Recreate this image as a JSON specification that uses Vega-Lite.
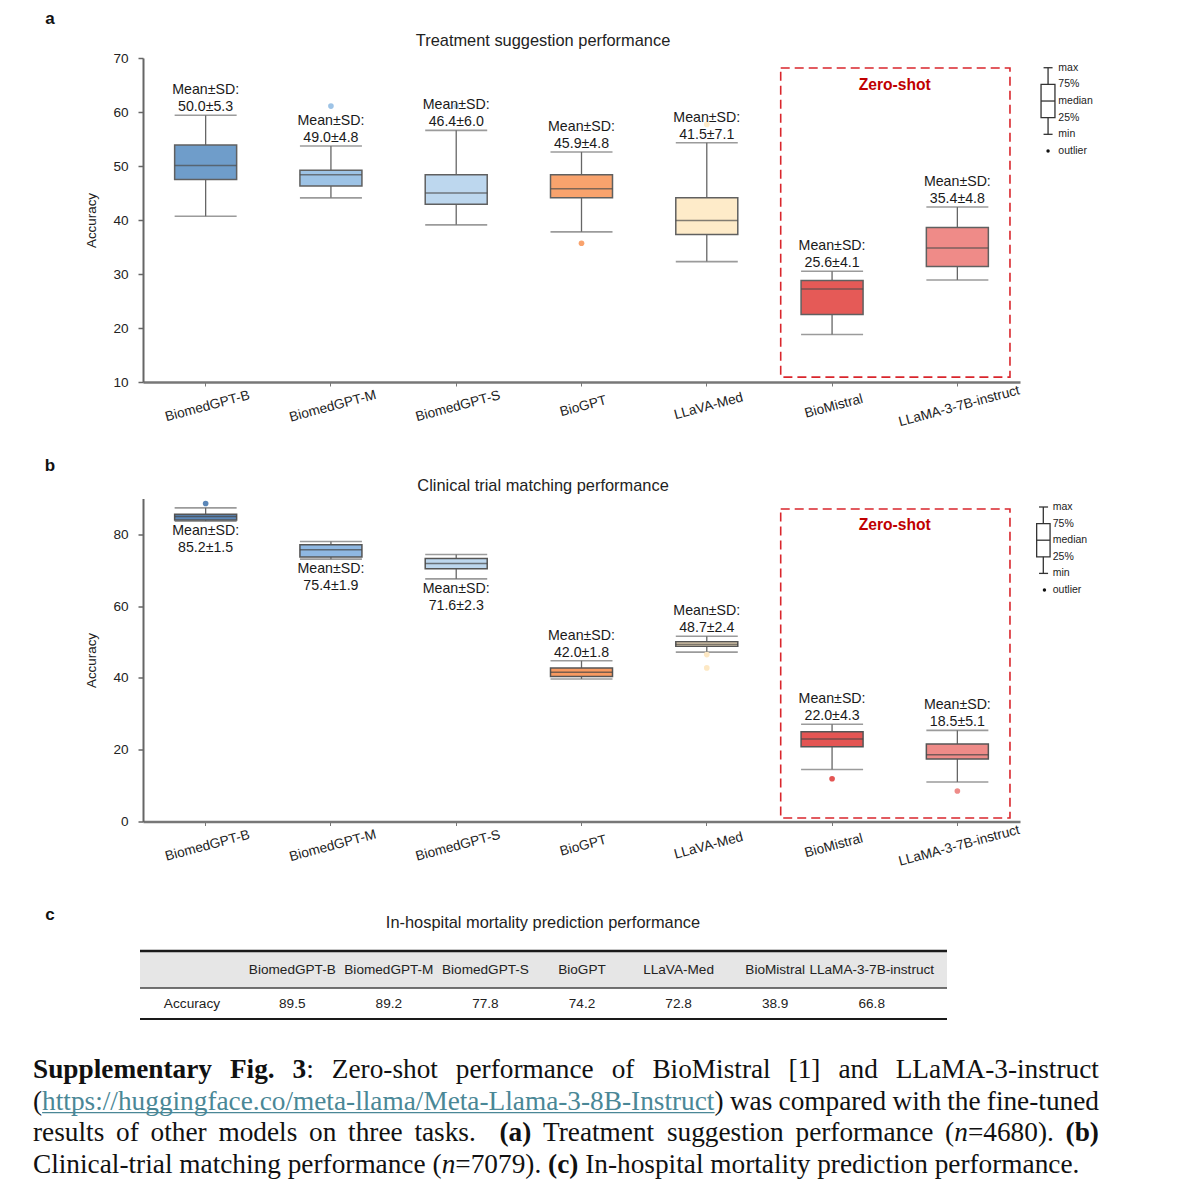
{
  "$schema": "https://vega.github.io/schema/vega-lite/v6.json",
  "background": "white",
  "padding": {"left": 33, "top": 10, "right": 0, "bottom": 0},
  "bounds": "flush",
  "center": true,
  "spacing": 116.5,
  "resolve": {"scale": {"color": "independent"}},
  "config": {
    "view": {"stroke": null},
    "text": {"font": "Liberation Sans"},
    "axis": {"grid": false, "labelFont": "Liberation Sans", "titleFont": "Liberation Sans", "labelColor": "#222", "titleColor": "#222"}
  },
  "datasets": {
    "boxes": [
      {"task": "treatment", "model": "BiomedGPT-B", "min": 40.7, "q1": 47.5, "median": 50.1, "q3": 53.9, "max": 59.4, "mean": 50.0, "sd": 5.3},
      {"task": "treatment", "model": "BiomedGPT-M", "min": 44.1, "q1": 46.3, "median": 48.4, "q3": 49.2, "max": 53.7, "mean": 49.0, "sd": 4.8},
      {"task": "treatment", "model": "BiomedGPT-S", "min": 39.1, "q1": 42.9, "median": 45.0, "q3": 48.4, "max": 56.6, "mean": 46.4, "sd": 6.0},
      {"task": "treatment", "model": "BioGPT", "min": 37.8, "q1": 44.1, "median": 45.8, "q3": 48.4, "max": 52.6, "mean": 45.9, "sd": 4.8},
      {"task": "treatment", "model": "LLaVA-Med", "min": 32.3, "q1": 37.3, "median": 39.9, "q3": 44.1, "max": 54.3, "mean": 41.5, "sd": 7.1},
      {"task": "treatment", "model": "BioMistral", "min": 18.8, "q1": 22.5, "median": 27.2, "q3": 28.8, "max": 30.5, "mean": 25.6, "sd": 4.1},
      {"task": "treatment", "model": "LLaMA-3-7B-instruct", "min": 28.9, "q1": 31.4, "median": 34.8, "q3": 38.6, "max": 42.4, "mean": 35.4, "sd": 4.8},
      {"task": "clinical", "model": "BiomedGPT-B", "min": 83.7, "q1": 84.0, "median": 85.0, "q3": 85.6, "max": 87.4, "mean": 85.2, "sd": 1.5},
      {"task": "clinical", "model": "BiomedGPT-M", "min": 73.1, "q1": 73.7, "median": 75.7, "q3": 77.1, "max": 78.0, "mean": 75.4, "sd": 1.9},
      {"task": "clinical", "model": "BiomedGPT-S", "min": 67.6, "q1": 70.4, "median": 71.9, "q3": 73.3, "max": 74.4, "mean": 71.6, "sd": 2.3},
      {"task": "clinical", "model": "BioGPT", "min": 39.7, "q1": 40.4, "median": 41.6, "q3": 42.8, "max": 44.8, "mean": 42.0, "sd": 1.8},
      {"task": "clinical", "model": "LLaVA-Med", "min": 47.2, "q1": 48.8, "median": 49.4, "q3": 50.1, "max": 51.6, "mean": 48.7, "sd": 2.4},
      {"task": "clinical", "model": "BioMistral", "min": 14.5, "q1": 20.8, "median": 23.0, "q3": 25.0, "max": 27.1, "mean": 22.0, "sd": 4.3},
      {"task": "clinical", "model": "LLaMA-3-7B-instruct", "min": 11.0, "q1": 17.4, "median": 18.6, "q3": 21.6, "max": 25.4, "mean": 18.5, "sd": 5.1}
    ],
    "outliers": [
      {"task": "treatment", "model": "BiomedGPT-M", "value": 61.1},
      {"task": "treatment", "model": "BiomedGPT-S", "value": 61.1},
      {"task": "treatment", "model": "BioGPT", "value": 35.7},
      {"task": "treatment", "model": "LLaVA-Med", "value": 57.7},
      {"task": "clinical", "model": "BiomedGPT-B", "value": 88.6},
      {"task": "clinical", "model": "LLaVA-Med", "value": 46.5},
      {"task": "clinical", "model": "LLaVA-Med", "value": 42.8},
      {"task": "clinical", "model": "BioMistral", "value": 11.9},
      {"task": "clinical", "model": "LLaMA-3-7B-instruct", "value": 8.5}
    ],
    "legendglyph": [{"min": 0, "q1": 1, "median": 2, "q3": 3, "max": 4, "outlier": -1}],
    "legendlabels": [
      {"item": "max", "v": 4}, {"item": "75%", "v": 3}, {"item": "median", "v": 2},
      {"item": "25%", "v": 1}, {"item": "min", "v": 0}, {"item": "outlier", "v": -1}
    ],
    "table": [
      {"model": "BiomedGPT-B", "accuracy": 89.5},
      {"model": "BiomedGPT-M", "accuracy": 89.2},
      {"model": "BiomedGPT-S", "accuracy": 77.8},
      {"model": "BioGPT", "accuracy": 74.2},
      {"model": "LLaVA-Med", "accuracy": 72.8},
      {"model": "BioMistral", "accuracy": 38.9},
      {"model": "LLaMA-3-7B-instruct", "accuracy": 66.8}
    ],
    "caption": [
      {"line": 1, "x": 0, "text": "Supplementary", "style": "bold"},
      {"line": 1, "x": 196.9, "text": "Fig.", "style": "bold"},
      {"line": 1, "x": 259.6, "text": "3", "style": "bold"},
      {"line": 1, "x": 273.3, "text": ":", "style": "plain"},
      {"line": 1, "x": 298.8, "text": "Zero-shot", "style": "plain"},
      {"line": 1, "x": 422.8, "text": "performance", "style": "plain"},
      {"line": 1, "x": 578.7, "text": "of", "style": "plain"},
      {"line": 1, "x": 619.4, "text": "BioMistral", "style": "plain"},
      {"line": 1, "x": 755.6, "text": "[1]", "style": "plain"},
      {"line": 1, "x": 805.4, "text": "and", "style": "plain"},
      {"line": 1, "x": 862.7, "text": "LLaMA-3-instruct", "style": "plain"},
      {"line": 2, "x": 0, "text": "(", "style": "plain"},
      {"line": 2, "x": 9.1, "x_end": 681.6, "text": "https://huggingface.co/meta-llama/Meta-Llama-3-8B-Instruct", "style": "link"},
      {"line": 2, "x": 681.6, "text": ")", "style": "plain"},
      {"line": 2, "x": 696.9, "text": "was", "style": "plain"},
      {"line": 2, "x": 745.6, "text": "compared", "style": "plain"},
      {"line": 2, "x": 859.5, "text": "with", "style": "plain"},
      {"line": 2, "x": 914.2, "text": "the", "style": "plain"},
      {"line": 2, "x": 953.8, "text": "fine-tuned", "style": "plain"},
      {"line": 3, "x": 0, "text": "results", "style": "plain"},
      {"line": 3, "x": 83.0, "text": "of", "style": "plain"},
      {"line": 3, "x": 117.5, "text": "other", "style": "plain"},
      {"line": 3, "x": 185.4, "text": "models", "style": "plain"},
      {"line": 3, "x": 276.0, "text": "on", "style": "plain"},
      {"line": 3, "x": 315.1, "text": "three", "style": "plain"},
      {"line": 3, "x": 381.4, "text": "tasks.", "style": "plain"},
      {"line": 3, "x": 466.4, "text": "(a)", "style": "bold"},
      {"line": 3, "x": 510.0, "text": "Treatment", "style": "plain"},
      {"line": 3, "x": 633.9, "text": "suggestion", "style": "plain"},
      {"line": 3, "x": 762.5, "text": "performance", "style": "plain"},
      {"line": 3, "x": 912.1, "text": "(", "style": "plain"},
      {"line": 3, "x": 921.2, "text": "n", "style": "italic"},
      {"line": 3, "x": 934.9, "text": "=4680).", "style": "plain"},
      {"line": 3, "x": 1032.6, "text": "(b)", "style": "bold"},
      {"line": 4, "x": 0, "text": "Clinical-trial matching performance (", "style": "plain"},
      {"line": 4, "x": 408.7, "text": "n", "style": "italic"},
      {"line": 4, "x": 422.3, "text": "=7079).", "style": "plain"},
      {"line": 4, "x": 515.1, "text": "(c)", "style": "bold"},
      {"line": 4, "x": 552.2, "text": "In-hospital mortality prediction performance.", "style": "plain"}
    ]
  },
  "vconcat": [
    {
      "width": 877,
      "height": 324,
      "resolve": {"scale": {"x": "independent", "y": "independent"}},
      "layer": [
        {
          "data": {"name": "boxes"},
          "transform": [
            {"filter": "datum.task === 'treatment'"},
            {"calculate": "'Mean±SD:\\n' + format(datum.mean, '.1f') + '±' + format(datum.sd, '.1f')", "as": "label"}
          ],
          "encoding": {
            "x": {
              "field": "model", "type": "nominal", "title": null,
              "scale": {"domain": ["BiomedGPT-B", "BiomedGPT-M", "BiomedGPT-S", "BioGPT", "LLaVA-Med", "BioMistral", "LLaMA-3-7B-instruct"], "paddingInner": 0, "paddingOuter": 0},
              "axis": {"labelAngle": -15, "labelAlign": "center", "labelBaseline": "top", "labelPadding": 13, "tickSize": 4, "tickColor": "#777", "domainColor": "#777", "domainWidth": 2.5, "labelFontSize": 13.6, "labelOverlap": false}
            }
          },
          "layer": [
            {
              "mark": {"type": "rule", "color": "#666", "strokeWidth": 1.3},
              "encoding": {
                "y": {"field": "min", "type": "quantitative", "title": "Accuracy",
                  "scale": {"domain": [10, 70], "nice": false, "zero": false},
                  "axis": {"values": [10, 20, 30, 40, 50, 60, 70], "tickSize": 5, "labelPadding": 10, "domainColor": "#666", "domainWidth": 2, "tickColor": "#666", "tickWidth": 1.5, "labelFontSize": 13.6, "titleFontSize": 13.4, "titleFontWeight": "normal", "titlePadding": 14}},
                "y2": {"field": "max"}
              }
            },
            {"mark": {"type": "tick", "color": "#707070", "size": 62, "thickness": 1.6}, "encoding": {"y": {"field": "min", "type": "quantitative"}}},
            {"mark": {"type": "tick", "color": "#707070", "size": 62, "thickness": 1.6}, "encoding": {"y": {"field": "max", "type": "quantitative"}}},
            {
              "mark": {"type": "bar", "size": 62, "stroke": "#606060", "strokeWidth": 1.5},
              "encoding": {
                "y": {"field": "q1", "type": "quantitative"}, "y2": {"field": "q3"},
                "color": {"field": "model", "type": "nominal", "legend": null,
                  "scale": {"domain": ["BiomedGPT-B", "BiomedGPT-M", "BiomedGPT-S", "BioGPT", "LLaVA-Med", "BioMistral", "LLaMA-3-7B-instruct"], "range": ["#6f9dca", "#9dc3e6", "#bdd7ee", "#f9a36d", "#feebc9", "#e55a57", "#ef8b88"]}}
              }
            },
            {"mark": {"type": "tick", "color": "#4d4d4d", "size": 62, "thickness": 1.5}, "encoding": {"y": {"field": "median", "type": "quantitative"}}},
            {
              "data": {"name": "outliers"},
              "transform": [{"filter": "datum.task === 'treatment'"}],
              "mark": {"type": "point", "filled": true, "size": 32, "opacity": 1},
              "encoding": {"y": {"field": "value", "type": "quantitative"}, "color": {"field": "model", "type": "nominal", "legend": null}}
            },
            {
              "mark": {"type": "text", "fontSize": 14.2, "lineBreak": "\n", "lineHeight": 17, "baseline": "bottom", "dy": -18, "color": "#1a1a1a"},
              "encoding": {"y": {"field": "max", "type": "quantitative"}, "text": {"field": "label"}}
            }
          ]
        },
        {
          "data": {"values": [{}]},
          "layer": [
            {
              "mark": {"type": "rect", "fill": "transparent", "stroke": "#d9262c", "strokeWidth": 1.6, "strokeDash": [9, 5]},
              "encoding": {
                "x": {"datum": 5.09, "type": "quantitative", "scale": {"domain": [0, 7], "nice": false, "zero": false}, "axis": null},
                "x2": {"datum": 6.92},
                "y": {"datum": 68.15, "type": "quantitative", "scale": {"domain": [10, 70], "nice": false, "zero": false}, "axis": null},
                "y2": {"datum": 10.9}
              }
            },
            {
              "mark": {"type": "text", "text": "Zero-shot", "fontWeight": "bold", "fontSize": 15.6, "color": "#c00000"},
              "encoding": {"x": {"datum": 6.0, "type": "quantitative", "axis": null}, "y": {"datum": 65.0, "type": "quantitative", "axis": null}}
            },
            {
              "mark": {"type": "text", "text": "a", "fontWeight": "bold", "fontSize": 17, "color": "#111"},
              "encoding": {"x": {"datum": -0.742, "type": "quantitative", "axis": null}, "y": {"datum": 77.22, "type": "quantitative", "axis": null}}
            },
            {
              "mark": {"type": "text", "text": "Treatment suggestion performance", "fontSize": 16.4, "color": "#222"},
              "encoding": {"x": {"datum": 3.193, "type": "quantitative", "axis": null}, "y": {"datum": 73.15, "type": "quantitative", "axis": null}}
            }
          ]
        },
        {
          "layer": [
            {
              "data": {"name": "legendglyph"},
              "mark": {"type": "rule", "color": "#333", "strokeWidth": 1.3},
              "encoding": {
                "x": {"datum": 7.224, "type": "quantitative", "scale": {"domain": [0, 7], "nice": false, "zero": false}, "axis": null},
                "y": {"field": "min", "type": "quantitative", "scale": {"domain": [-14.876, 4.584], "nice": false, "zero": false}, "axis": null},
                "y2": {"field": "max"}
              }
            },
            {
              "data": {"name": "legendglyph"},
              "mark": {"type": "rect", "fill": "white", "stroke": "#333", "strokeWidth": 1.3},
              "encoding": {"x": {"datum": 7.168, "type": "quantitative", "axis": null}, "x2": {"datum": 7.279}, "y": {"field": "q1", "type": "quantitative", "axis": null}, "y2": {"field": "q3"}}
            },
            {
              "data": {"name": "legendglyph"},
              "mark": {"type": "rule", "color": "#333", "strokeWidth": 1.3},
              "encoding": {"x": {"datum": 7.168, "type": "quantitative", "axis": null}, "x2": {"datum": 7.279}, "y": {"field": "median", "type": "quantitative", "axis": null}}
            },
            {
              "data": {"name": "legendglyph"},
              "mark": {"type": "rule", "color": "#333", "strokeWidth": 1.3},
              "encoding": {"x": {"datum": 7.188, "type": "quantitative", "axis": null}, "x2": {"datum": 7.26}, "y": {"field": "max", "type": "quantitative", "axis": null}}
            },
            {
              "data": {"name": "legendglyph"},
              "mark": {"type": "rule", "color": "#333", "strokeWidth": 1.3},
              "encoding": {"x": {"datum": 7.188, "type": "quantitative", "axis": null}, "x2": {"datum": 7.26}, "y": {"field": "min", "type": "quantitative", "axis": null}}
            },
            {
              "data": {"name": "legendglyph"},
              "mark": {"type": "point", "filled": true, "size": 12, "color": "#111", "opacity": 1},
              "encoding": {"x": {"datum": 7.224, "type": "quantitative", "axis": null}, "y": {"field": "outlier", "type": "quantitative", "axis": null}}
            },
            {
              "data": {"name": "legendlabels"},
              "mark": {"type": "text", "align": "left", "baseline": "middle", "fontSize": 10.5, "color": "#222"},
              "encoding": {"x": {"datum": 7.306, "type": "quantitative", "axis": null}, "y": {"field": "v", "type": "quantitative", "axis": null}, "text": {"field": "item"}}
            }
          ]
        }
      ]
    },
    {
      "width": 877,
      "height": 323,
      "resolve": {"scale": {"x": "independent", "y": "independent"}},
      "layer": [
        {
          "data": {"name": "boxes"},
          "transform": [
            {"filter": "datum.task === 'clinical'"},
            {"calculate": "'Mean±SD:\\n' + format(datum.mean, '.1f') + '±' + format(datum.sd, '.1f')", "as": "label"}
          ],
          "encoding": {
            "x": {
              "field": "model", "type": "nominal", "title": null,
              "scale": {"domain": ["BiomedGPT-B", "BiomedGPT-M", "BiomedGPT-S", "BioGPT", "LLaVA-Med", "BioMistral", "LLaMA-3-7B-instruct"], "paddingInner": 0, "paddingOuter": 0},
              "axis": {"labelAngle": -15, "labelAlign": "center", "labelBaseline": "top", "labelPadding": 13, "tickSize": 4, "tickColor": "#777", "domainColor": "#777", "domainWidth": 2.5, "labelFontSize": 13.6, "labelOverlap": false}
            }
          },
          "layer": [
            {
              "mark": {"type": "rule", "color": "#666", "strokeWidth": 1.3},
              "encoding": {
                "y": {"field": "min", "type": "quantitative", "title": "Accuracy",
                  "scale": {"domain": [0, 90], "nice": false, "zero": false},
                  "axis": {"values": [0, 20, 40, 60, 80], "tickSize": 5, "labelPadding": 10, "domainColor": "#666", "domainWidth": 2, "tickColor": "#666", "tickWidth": 1.5, "labelFontSize": 13.6, "titleFontSize": 13.4, "titleFontWeight": "normal", "titlePadding": 14}},
                "y2": {"field": "max"}
              }
            },
            {"mark": {"type": "tick", "color": "#707070", "size": 62, "thickness": 1.6}, "encoding": {"y": {"field": "min", "type": "quantitative"}}},
            {"mark": {"type": "tick", "color": "#707070", "size": 62, "thickness": 1.6}, "encoding": {"y": {"field": "max", "type": "quantitative"}}},
            {
              "mark": {"type": "bar", "size": 62, "stroke": "#555", "strokeWidth": 1.5},
              "encoding": {
                "y": {"field": "q1", "type": "quantitative"}, "y2": {"field": "q3"},
                "color": {"field": "model", "type": "nominal", "legend": null,
                  "scale": {"domain": ["BiomedGPT-B", "BiomedGPT-M", "BiomedGPT-S", "BioGPT", "LLaVA-Med", "BioMistral", "LLaMA-3-7B-instruct"], "range": ["#5b87b8", "#8fb8e2", "#bdd7ee", "#f89a61", "#fde8c4", "#e45553", "#ee8b88"]}}
              }
            },
            {"mark": {"type": "tick", "color": "#444", "size": 62, "thickness": 1.5}, "encoding": {"y": {"field": "median", "type": "quantitative"}}},
            {
              "data": {"name": "outliers"},
              "transform": [{"filter": "datum.task === 'clinical'"}],
              "mark": {"type": "point", "filled": true, "size": 32, "opacity": 1},
              "encoding": {"y": {"field": "value", "type": "quantitative"}, "color": {"field": "model", "type": "nominal", "legend": null}}
            },
            {
              "transform": [{"filter": "indexof(['BiomedGPT-B','BiomedGPT-M','BiomedGPT-S'], datum.model) < 0"}],
              "mark": {"type": "text", "fontSize": 14.2, "lineBreak": "\n", "lineHeight": 17, "baseline": "bottom", "dy": -18, "color": "#1a1a1a"},
              "encoding": {"y": {"field": "max", "type": "quantitative"}, "text": {"field": "label"}}
            },
            {
              "transform": [{"filter": "indexof(['BiomedGPT-B','BiomedGPT-M','BiomedGPT-S'], datum.model) >= 0"}],
              "mark": {"type": "text", "fontSize": 14.2, "lineBreak": "\n", "lineHeight": 17, "baseline": "top", "dy": 3, "color": "#1a1a1a"},
              "encoding": {"y": {"field": "min", "type": "quantitative"}, "text": {"field": "label"}}
            }
          ]
        },
        {
          "data": {"values": [{}]},
          "layer": [
            {
              "mark": {"type": "rect", "fill": "transparent", "stroke": "#d9262c", "strokeWidth": 1.6, "strokeDash": [9, 5]},
              "encoding": {
                "x": {"datum": 5.09, "type": "quantitative", "scale": {"domain": [0, 7], "nice": false, "zero": false}, "axis": null},
                "x2": {"datum": 6.92},
                "y": {"datum": 87.07, "type": "quantitative", "scale": {"domain": [0, 90], "nice": false, "zero": false}, "axis": null},
                "y2": {"datum": 0.98}
              }
            },
            {
              "mark": {"type": "text", "text": "Zero-shot", "fontWeight": "bold", "fontSize": 15.6, "color": "#c00000"},
              "encoding": {"x": {"datum": 6.0, "type": "quantitative", "axis": null}, "y": {"datum": 82.6, "type": "quantitative", "axis": null}}
            },
            {
              "mark": {"type": "text", "text": "b", "fontWeight": "bold", "fontSize": 17, "color": "#111"},
              "encoding": {"x": {"datum": -0.742, "type": "quantitative", "axis": null}, "y": {"datum": 99.05, "type": "quantitative", "axis": null}}
            },
            {
              "mark": {"type": "text", "text": "Clinical trial matching performance", "fontSize": 16.4, "color": "#222"},
              "encoding": {"x": {"datum": 3.193, "type": "quantitative", "axis": null}, "y": {"datum": 93.5, "type": "quantitative", "axis": null}}
            }
          ]
        },
        {
          "layer": [
            {
              "data": {"name": "legendglyph"},
              "mark": {"type": "rule", "color": "#333", "strokeWidth": 1.3},
              "encoding": {
                "x": {"datum": 7.186, "type": "quantitative", "scale": {"domain": [0, 7], "nice": false, "zero": false}, "axis": null},
                "y": {"field": "min", "type": "quantitative", "scale": {"domain": [-14.946, 4.512], "nice": false, "zero": false}, "axis": null},
                "y2": {"field": "max"}
              }
            },
            {
              "data": {"name": "legendglyph"},
              "mark": {"type": "rect", "fill": "white", "stroke": "#333", "strokeWidth": 1.3},
              "encoding": {"x": {"datum": 7.133, "type": "quantitative", "axis": null}, "x2": {"datum": 7.24}, "y": {"field": "q1", "type": "quantitative", "axis": null}, "y2": {"field": "q3"}}
            },
            {
              "data": {"name": "legendglyph"},
              "mark": {"type": "rule", "color": "#333", "strokeWidth": 1.3},
              "encoding": {"x": {"datum": 7.133, "type": "quantitative", "axis": null}, "x2": {"datum": 7.24}, "y": {"field": "median", "type": "quantitative", "axis": null}}
            },
            {
              "data": {"name": "legendglyph"},
              "mark": {"type": "rule", "color": "#333", "strokeWidth": 1.3},
              "encoding": {"x": {"datum": 7.152, "type": "quantitative", "axis": null}, "x2": {"datum": 7.224}, "y": {"field": "max", "type": "quantitative", "axis": null}}
            },
            {
              "data": {"name": "legendglyph"},
              "mark": {"type": "rule", "color": "#333", "strokeWidth": 1.3},
              "encoding": {"x": {"datum": 7.152, "type": "quantitative", "axis": null}, "x2": {"datum": 7.224}, "y": {"field": "min", "type": "quantitative", "axis": null}}
            },
            {
              "data": {"name": "legendglyph"},
              "mark": {"type": "point", "filled": true, "size": 12, "color": "#111", "opacity": 1},
              "encoding": {"x": {"datum": 7.195, "type": "quantitative", "axis": null}, "y": {"field": "outlier", "type": "quantitative", "axis": null}}
            },
            {
              "data": {"name": "legendlabels"},
              "mark": {"type": "text", "align": "left", "baseline": "middle", "fontSize": 10.5, "color": "#222"},
              "encoding": {"x": {"datum": 7.261, "type": "quantitative", "axis": null}, "y": {"field": "v", "type": "quantitative", "axis": null}, "text": {"field": "item"}}
            }
          ]
        }
      ]
    },
    {
      "width": 1097,
      "height": 241,
      "resolve": {"scale": {"x": "independent", "y": "independent"}},
      "layer": [
        {
          "data": {"values": [{}]},
          "layer": [
            {
              "mark": {"type": "rect", "fill": "#e6e6e6"},
              "encoding": {
                "x": {"datum": 107, "type": "quantitative", "scale": {"domain": [0, 1097], "nice": false, "zero": false}, "axis": null},
                "x2": {"datum": 914},
                "y": {"datum": 13, "type": "quantitative", "scale": {"domain": [0, 241], "nice": false, "zero": false, "reverse": true}, "axis": null},
                "y2": {"datum": 50}
              }
            },
            {
              "mark": {"type": "rule", "color": "#1a1a1a", "strokeWidth": 2.5},
              "encoding": {"x": {"datum": 107, "type": "quantitative", "axis": null}, "x2": {"datum": 914}, "y": {"datum": 13, "type": "quantitative", "axis": null}}
            },
            {
              "mark": {"type": "rule", "color": "#444", "strokeWidth": 1.3},
              "encoding": {"x": {"datum": 107, "type": "quantitative", "axis": null}, "x2": {"datum": 914}, "y": {"datum": 50, "type": "quantitative", "axis": null}}
            },
            {
              "mark": {"type": "rule", "color": "#1a1a1a", "strokeWidth": 2.2},
              "encoding": {"x": {"datum": 107, "type": "quantitative", "axis": null}, "x2": {"datum": 914}, "y": {"datum": 81, "type": "quantitative", "axis": null}}
            },
            {
              "mark": {"type": "text", "text": "c", "fontWeight": "bold", "fontSize": 17, "color": "#111"},
              "encoding": {"x": {"datum": 17, "type": "quantitative", "axis": null}, "y": {"datum": -23, "type": "quantitative", "axis": null}}
            },
            {
              "mark": {"type": "text", "text": "In-hospital mortality prediction performance", "fontSize": 16.4, "color": "#222"},
              "encoding": {"x": {"datum": 510, "type": "quantitative", "axis": null}, "y": {"datum": -15, "type": "quantitative", "axis": null}}
            },
            {
              "mark": {"type": "text", "text": "Accuracy", "fontSize": 13.7, "color": "#222"},
              "encoding": {"x": {"datum": 159, "type": "quantitative", "axis": null}, "y": {"datum": 66, "type": "quantitative", "axis": null}}
            }
          ]
        },
        {
          "data": {"name": "table"},
          "encoding": {
            "x": {"field": "model", "type": "nominal", "axis": null,
              "scale": {"domain": ["BiomedGPT-B", "BiomedGPT-M", "BiomedGPT-S", "BioGPT", "LLaVA-Med", "BioMistral", "LLaMA-3-7B-instruct"], "paddingInner": 0, "paddingOuter": 0, "range": [211, 887]}}
          },
          "layer": [
            {
              "mark": {"type": "text", "fontSize": 13.6, "color": "#222"},
              "encoding": {"y": {"datum": 32, "type": "quantitative", "scale": {"domain": [0, 241], "nice": false, "zero": false, "reverse": true}, "axis": null}, "text": {"field": "model"}}
            },
            {
              "mark": {"type": "text", "fontSize": 13.6, "color": "#222"},
              "encoding": {"y": {"datum": 66, "type": "quantitative", "axis": null}, "text": {"field": "accuracy", "type": "quantitative", "format": ".1f"}}
            }
          ]
        },
        {
          "data": {"name": "caption"},
          "encoding": {
            "x": {"field": "x", "type": "quantitative", "scale": {"domain": [0, 1097], "nice": false, "zero": false}, "axis": null},
            "y": {"field": "line", "type": "quantitative", "scale": {"domain": [-3.168, 4.442], "nice": false, "zero": false, "reverse": true}, "axis": null}
          },
          "layer": [
            {
              "transform": [{"filter": "datum.style === 'plain'"}],
              "mark": {"type": "text", "align": "left", "baseline": "middle", "font": "Liberation Serif", "fontSize": 27.3, "color": "#111"},
              "encoding": {"text": {"field": "text"}}
            },
            {
              "transform": [{"filter": "datum.style === 'bold'"}],
              "mark": {"type": "text", "align": "left", "baseline": "middle", "font": "Liberation Serif", "fontWeight": "bold", "fontSize": 27.3, "color": "#111"},
              "encoding": {"text": {"field": "text"}}
            },
            {
              "transform": [{"filter": "datum.style === 'italic'"}],
              "mark": {"type": "text", "align": "left", "baseline": "middle", "font": "Liberation Serif", "fontStyle": "italic", "fontSize": 27.3, "color": "#111"},
              "encoding": {"text": {"field": "text"}}
            },
            {
              "transform": [{"filter": "datum.style === 'link'"}],
              "mark": {"type": "text", "align": "left", "baseline": "middle", "font": "Liberation Serif", "fontSize": 27.3, "color": "#4a8796"},
              "encoding": {"text": {"field": "text"}}
            },
            {
              "transform": [{"filter": "datum.style === 'link'"}],
              "mark": {"type": "rule", "color": "#4a8796", "strokeWidth": 1.2, "yOffset": 11},
              "encoding": {"x2": {"field": "x_end"}}
            }
          ]
        }
      ]
    }
  ]
}
